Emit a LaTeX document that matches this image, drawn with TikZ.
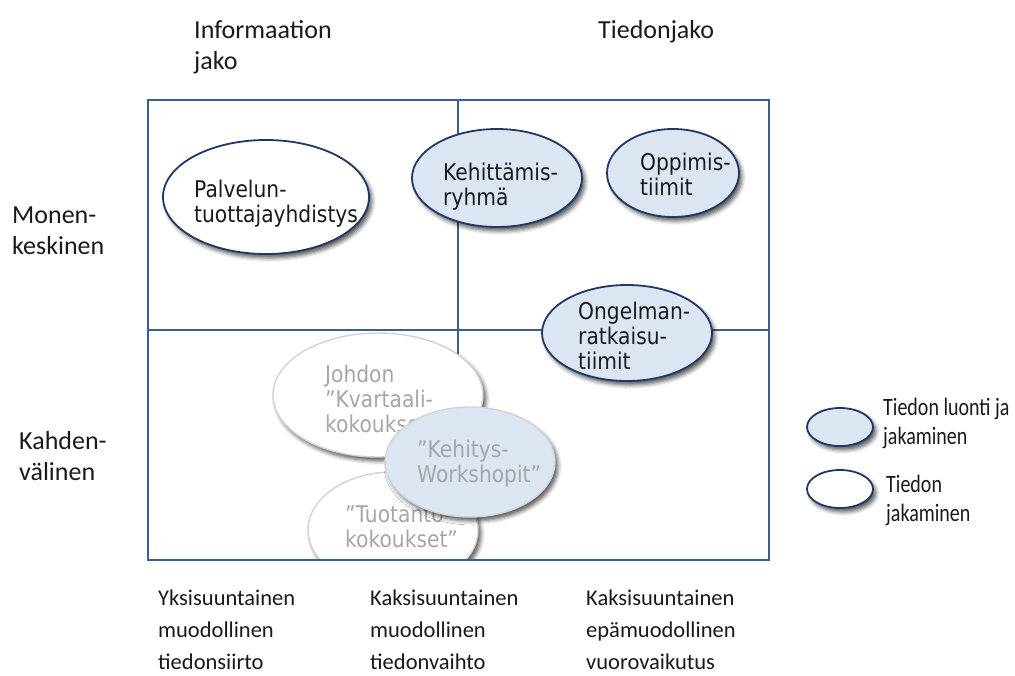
\documentclass[tikz,border=0pt]{standalone}
\usepackage{fontspec}
\usetikzlibrary{shapes.geometric,shadows.blur}

\newfontfamily\lblfont{Carlito}
\newfontfamily\legfont[FakeStretch=0.8]{Carlito}
\newfontfamily\ellfont[FakeStretch=0.88]{DejaVu Sans}

\definecolor{gridblue}{HTML}{3B5F91}
\definecolor{ellline}{HTML}{1F3864}
\definecolor{ellfill}{HTML}{DCE6F2}
\definecolor{fadeline}{HTML}{D3D3D3}
\definecolor{fadetext}{HTML}{A6A6A6}
\definecolor{inktext}{HTML}{1A1A1A}

\tikzset{
  gridline/.style={draw=gridblue, line width=1.6pt},
  bubble/.style={ellipse, draw=ellline, line width=1.8pt, fill=ellfill, inner sep=0pt,
    blur shadow={shadow xshift=3pt, shadow yshift=-4pt, shadow blur radius=4pt, shadow opacity=65}},
  plainbubble/.style={bubble, fill=white},
  fadebubble/.style={bubble, draw=fadeline, line width=1.4pt, fill=white},
  fadeblue/.style={fadebubble, fill=ellfill},
  % multi-line texts are placed by the baseline of their last line
  etext/.style={font=\ellfont\fontsize{23}{25}\selectfont, align=left, text=inktext,
    inner sep=0pt, anchor=base west},
  ftext/.style={etext, text=fadetext},
  axislabel/.style={font=\lblfont\fontsize{26}{31}\selectfont, align=left, text=inktext,
    inner sep=0pt, anchor=base west},
  bottomlabel/.style={font=\lblfont\fontsize{22.5}{32}\selectfont, align=left, text=inktext,
    inner sep=0pt, anchor=base west},
  legendlabel/.style={font=\legfont\fontsize{25}{29}\selectfont, align=left, text=inktext,
    inner sep=0pt, anchor=base west},
}

\begin{document}
\begin{tikzpicture}[x=1pt, y=-1pt]
  \useasboundingbox (0,0) rectangle (1015,675);

  % frame corners and dividers
  \coordinate (tl) at (148,100);
  \coordinate (br) at (769,560);
  \coordinate (vtop) at (458,100);
  \coordinate (vbot) at (458,560);
  \coordinate (hl) at (148,330);
  \coordinate (hr) at (769,330);

  \draw[gridline] (vtop) -- (vbot);
  \draw[gridline] (hl) -- (hr);

  % upper row
  \node[plainbubble, minimum width=206pt, minimum height=114pt] (pal) at (266,197) {};
  \node[etext] (paltxt) at (194,222) {Palvelun-\\tuottajayhdistys};

  \node[bubble, minimum width=170pt, minimum height=98pt] (keh) at (497,178) {};
  \node[etext] (kehtxt) at (443,205) {Kehittämis-\\ryhmä};

  \node[bubble, minimum width=132pt, minimum height=88pt] (opp) at (673,173) {};
  \node[etext] (opptxt) at (640,195) {Oppimis-\\tiimit};

  \node[bubble, minimum width=170pt, minimum height=96pt] (ong) at (627,333) {};
  \node[etext] (ongtxt) at (578,369) {Ongelman-\\ratkaisu-\\tiimit};

  % lower row, faded
  \node[fadebubble, minimum width=210pt, minimum height=124pt] (joh) at (378,395) {};
  \node[ftext] (johtxt) at (325,432) {Johdon\\”Kvartaali-\\kokoukset”};

  \begin{scope}
    \clip (tl) rectangle (br);
    \node[fadebubble, minimum width=170pt, minimum height=116pt] (tuo) at (393,530) {};
    \node[ftext] (tuotxt) at (345,547) {”Tuotanto-\\kokoukset”};
  \end{scope}

  \node[fadeblue, minimum width=170pt, minimum height=110pt] (kws) at (470,462) {};
  \node[ftext] (kwstxt) at (417,482) {”Kehitys-\\Workshopit”};

  % outer frame
  \draw[gridline] (tl) rectangle (br);

  % axis labels
  \node[axislabel] (infojako) at (194,69) {Informaation\\jako};
  \node[axislabel] (tiedonjako) at (598,38) {Tiedonjako};
  \node[axislabel] (monen) at (12,254) {Monen-\\keskinen};
  \node[axislabel] (kahden) at (19,480) {Kahden-\\välinen};

  \node[bottomlabel] (yksi) at (158,669) {Yksisuuntainen\\muodollinen\\tiedonsiirto};
  \node[bottomlabel] (kaksi) at (370,669) {Kaksisuuntainen\\muodollinen\\tiedonvaihto};
  \node[bottomlabel] (epamuod) at (586,669) {Kaksisuuntainen\\epämuodollinen\\vuorovaikutus};

  % legend
  \node[bubble, minimum width=66pt, minimum height=38pt] (leg1) at (840,427) {};
  \node[legendlabel] (leg1txt) at (883,444) {Tiedon luonti ja\\jakaminen};
  \node[plainbubble, minimum width=66pt, minimum height=38pt] (leg2) at (840,489) {};
  \node[legendlabel] (leg2txt) at (886,521) {Tiedon\\jakaminen};
\end{tikzpicture}
\end{document}
